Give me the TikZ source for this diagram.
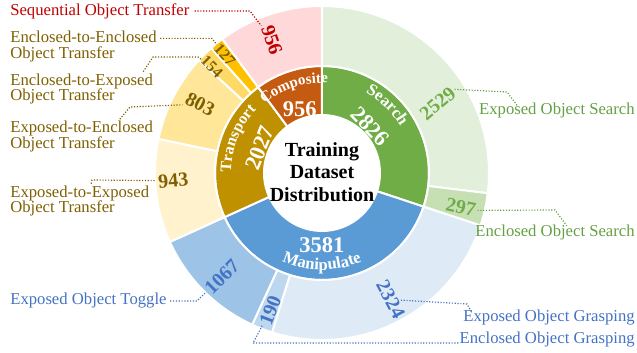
\documentclass[tikz,border=0pt]{standalone}
\usepackage{fontspec}
\setmainfont{Liberation Serif}
\usepackage{tikz}
\usetikzlibrary{decorations.text}

\definecolor{srchDark}{HTML}{70AD47}
\definecolor{srchA}{HTML}{E2EFDA}
\definecolor{srchB}{HTML}{C6E0B4}
\definecolor{srchText}{HTML}{64A043}
\definecolor{manDark}{HTML}{5B9BD5}
\definecolor{manA}{HTML}{DEEBF7}
\definecolor{manB}{HTML}{BDD7EE}
\definecolor{manC}{HTML}{9DC3E6}
\definecolor{manText}{HTML}{4472C4}
\definecolor{trDark}{HTML}{BF9000}
\definecolor{trA}{HTML}{FFF2CC}
\definecolor{trB}{HTML}{FFE699}
\definecolor{trC}{HTML}{FFD966}
\definecolor{trD}{HTML}{FFC000}
\definecolor{trText}{HTML}{7F6000}
\definecolor{compDark}{HTML}{C55A11}
\definecolor{compA}{HTML}{FFD9D9}
\definecolor{compText}{HTML}{C00000}

\begin{document}
\begin{tikzpicture}
[x=0.6pt,y=0.6pt,
  wedge/.style={draw=white,line width=1.2pt},
  num/.style={font=\bfseries\fontsize{12}{12}\selectfont,inner sep=1pt},
  small num/.style={font=\bfseries\fontsize{9.5}{9.5}\selectfont,inner sep=0.5pt},
  innum/.style={font=\bfseries\fontsize{13.5}{13.5}\selectfont,text=white},
  lbl/.style={font=\fontsize{10}{9.3}\selectfont,inner sep=0pt,align=left},
  leader/.style={densely dotted,line width=0.7pt}]
  \useasboundingbox (-322,-180) rectangle (315,173);

  % inner ring
  \foreach \a/\b/\c in {90/-18.34/srchDark,-18.34/-155.63/manDark,
      -155.63/-233.34/trDark,-233.34/-270/compDark}
    \filldraw[wedge,fill=\c] (\a:58) arc[start angle=\a,end angle=\b,radius=58]
      -- (\b:107) arc[start angle=\b,end angle=\a,radius=107] -- cycle;

  % outer ring
  \foreach \a/\b/\c in {90/-6.96/srchA,-6.96/-18.34/srchB,
      -18.34/-107.44/manA,-107.44/-114.72/manB,-114.72/-155.63/manC,
      -155.63/-191.78/trA,-191.78/-222.57/trB,-222.57/-228.47/trC,-228.47/-233.34/trD,
      -233.34/-270/compA}
    \filldraw[wedge,fill=\c] (\a:107) arc[start angle=\a,end angle=\b,radius=107]
      -- (\b:167) arc[start angle=\b,end angle=\a,radius=167] -- cycle;

  \node[font=\bfseries\fontsize{12}{13.5}\selectfont,align=center] (title) at (0,1) {Training\\Dataset\\Distribution};

  % category names
  \path[decorate,decoration={text along path,text align=center,text color=white,
      text={|\bfseries\fontsize{10}{10}\selectfont|Search}}]
    (80:91) arc[start angle=80,end angle=12,radius=91];
  \path[decorate,decoration={text along path,text align=center,text color=white,
      text={|\bfseries\fontsize{9}{9}\selectfont|Composite}}]
    (140:90) arc[start angle=140,end angle=76,radius=90];
  \path[decorate,decoration={text along path,text align=center,text color=white,
      text={|\bfseries\fontsize{9.5}{9.5}\selectfont|Transport}}]
    (200:91) arc[start angle=200,end angle=116,radius=91];
  \path[decorate,decoration={text along path,text align=center,text color=white,
      text={|\bfseries\fontsize{10}{10}\selectfont|Manipulate}}]
    (-140:97) arc[start angle=-140,end angle=-40,radius=97];

  \node[innum,rotate=-46] (n2826) at (44:67) {2826};
  \node[innum] (n956c) at (109:68) {956};
  \node[innum,rotate=68] (n2027) at (158:67) {2027};
  \node[innum] (n3581) at (-90:72) {3581};

  \node[num,text=srchDark,rotate=40] (n2529) at (31:135) {2529};
  \node[num,text=srchDark,rotate=-12] (n297) at (-13.7:143) {297};
  \node[num,text=manText,rotate=-62] (n2324) at (-61.5:144) {2324};
  \node[num,text=manText,rotate=69] (n190) at (-110.6:147) {190};
  \node[num,text=manText,rotate=45] (n1067) at (-134:144) {1067};
  \node[num,text=trText,rotate=5] (n943) at (183:149) {943};
  \node[num,text=trText,rotate=-27] (n803) at (150.5:140) {803};
  \node[small num,text=trText,rotate=-45] (n154) at (136:153) {154};
  \node[small num,text=trText,rotate=-48] (n127) at (129.4:153) {127};
  \node[num,text=compText,rotate=-71] (n956) at (110.6:142) {956};

  \node[lbl,text=compText,anchor=west] (tSeq) at (-312,162) {Sequential Object Transfer};
  \node[lbl,text=trText,anchor=west] (tE2E) at (-312,126.5) {Enclosed-to-Enclosed\\Object Transfer};
  \node[lbl,text=trText,anchor=west] (tE2X) at (-312,84) {Enclosed-to-Exposed\\Object Transfer};
  \node[lbl,text=trText,anchor=west] (tX2E) at (-312,36.5) {Exposed-to-Enclosed\\Object Transfer};
  \node[lbl,text=trText,anchor=west] (tX2X) at (-312,-28) {Exposed-to-Exposed\\Object Transfer};
  \node[lbl,text=manText,anchor=west] (tToggle) at (-312,-128) {Exposed Object Toggle};
  \node[lbl,text=srchText,anchor=east] (tExpSearch) at (313,63) {Exposed Object Search};
  \node[lbl,text=srchText,anchor=east] (tEncSearch) at (313,-59) {Enclosed Object Search};
  \node[lbl,text=manText,anchor=east] (tExpGrasp) at (313,-145) {Exposed Object Grasping};
  \node[lbl,text=manText,anchor=east] (tEncGrasp) at (313,-167) {Enclosed Object Grasping};

  % leader bends
  \coordinate (kSeq) at (-72,162);
  \coordinate (kE2E) at (-110,134);
  \coordinate (kE2X) at (-169,116);
  \coordinate (kE2Xb) at (-124,116);
  \coordinate (kX2E) at (-192,66);
  \coordinate (kX2X) at (-230,-7);
  \coordinate (kTog) at (-125,-128);
  \coordinate (kES) at (185,81);
  \coordinate (kNS) at (233,-37);
  \coordinate (kXG) at (145,-131);
  \coordinate (kNG) at (-69,-170);
  \coordinate (sE2E) at ([xshift=2pt,yshift=-4.5pt]tE2E.north east);
  \coordinate (sE2X) at ([xshift=-6pt,yshift=1pt]tE2X.north east);
  \coordinate (sX2E) at ([xshift=-20pt,yshift=1pt]tX2E.north east);
  \coordinate (sX2X) at ([xshift=-35pt,yshift=1pt]tX2X.north east);
  \coordinate (eES) at ([xshift=23pt,yshift=-2pt]tExpSearch.north west);
  \coordinate (eNS) at ([xshift=55pt,yshift=-1pt]tEncSearch.north west);
  \coordinate (eXG) at ([xshift=5pt,yshift=-1pt]tExpGrasp.north west);

  \draw[leader,compText] ([xshift=3pt]tSeq.east) -- (kSeq) -- (n956);
  \draw[leader,trText] (sE2E) -- (sE2E -| kE2E) -- (n127);
  \draw[leader,trText] (sE2X) -- (kE2X) -- (kE2Xb) -- (n154);
  \draw[leader,manText] ([xshift=2pt]tToggle.east) -- (kTog) -- (n1067);
  \draw[leader,manText] (n190) -- (kNG) -- (kNG -| tEncGrasp.west);

  \foreach \from/\via/\to/\c in {sX2E/kX2E/n803/trText,
      sX2X/kX2X/n943/trText,n2529.east/kES/eES/srchText,n297.east/kNS/eNS/srchText,
      n2324/kXG/eXG/manText}
    \draw[leader,\c] (\from) -- (\via) -- (\to);

\end{tikzpicture}
\end{document}
